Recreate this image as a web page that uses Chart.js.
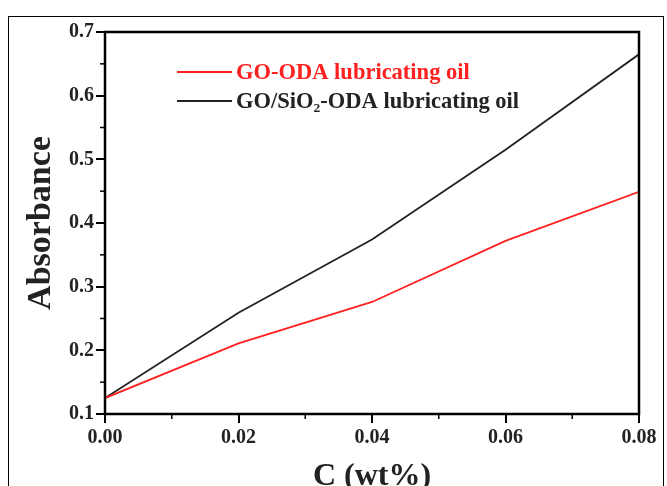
<!DOCTYPE html>
<html>
<head>
<meta charset="utf-8">
<script src="https://cdn.jsdelivr.net/npm/chart.js@4/dist/chart.umd.min.js"></script>
<style>
  body { margin: 0; background: #fff; }
  #wrap { position: relative; width: 667px; height: 486px; overflow: hidden; }
  #frame { position: absolute; left: 8px; top: 16px; width: 654px; height: 480px; border: 1px solid #000; pointer-events: none; }
</style>
</head>
<body>
<div id="wrap">
  <canvas id="chart" width="667" height="486"></canvas>
  <div id="frame"></div>
</div>
<script>
// Данные
const concentrations = [0, 0.02, 0.04, 0.06, 0.08];
const goOda = [0.125, 0.211, 0.276, 0.372, 0.449];
const goSiO2Oda = [0.125, 0.259, 0.374, 0.515, 0.665];
const xTicks = [0, 0.02, 0.04, 0.06, 0.08];
const yTicks = [0.1, 0.2, 0.3, 0.4, 0.5, 0.6, 0.7];
const seriesNames = ['GO-ODA lubricating oil', 'GO/SiO₂-ODA lubricating oil'];

const FONT = '"Liberation Serif", "Times New Roman", serif';

// Рамка, малые деления и легенда
const framePlugin = {
    id: 'frame',
    afterDraw(chart) {
        const ctx = chart.ctx;
        const a = chart.chartArea;
        const xs = chart.scales.x, ys = chart.scales.y;
        ctx.save();
        ctx.strokeStyle = '#000';
        ctx.lineWidth = 2.5;
        ctx.strokeRect(a.left, a.top, a.right - a.left, a.bottom - a.top);

        // малые деления
        ctx.lineWidth = 1.5;
        for (let i = 0; i < xTicks.length - 1; i++) {
            const px = xs.getPixelForValue((xTicks[i] + xTicks[i + 1]) / 2);
            ctx.beginPath();
            ctx.moveTo(px, a.bottom);
            ctx.lineTo(px, a.bottom + 5);
            ctx.stroke();
        }
        for (let i = 0; i < yTicks.length - 1; i++) {
            const py = ys.getPixelForValue((yTicks[i] + yTicks[i + 1]) / 2);
            ctx.beginPath();
            ctx.moveTo(a.left, py);
            ctx.lineTo(a.left - 5, py);
            ctx.stroke();
        }

        // легенда
        const colors = ['#ff2020', '#222'];
        const rows = [72, 101];
        ctx.font = 'bold 22.5px ' + FONT;
        ctx.textBaseline = 'middle';
        ctx.textAlign = 'left';
        rows.forEach((y, i) => {
            ctx.strokeStyle = colors[i];
            ctx.lineWidth = 2;
            ctx.beginPath();
            ctx.moveTo(177, y);
            ctx.lineTo(232, y);
            ctx.stroke();
            ctx.fillStyle = colors[i];
            ctx.fillText(seriesNames[i], 236, y + 1);
        });
        ctx.restore();
    }
};

const data = {
    datasets: [
        {
            label: seriesNames[0],
            data: concentrations.map((c, i) => ({ x: c, y: goOda[i] })),
            borderColor: '#ff2020',
            borderWidth: 1.8,
            pointRadius: 0,
            tension: 0
        },
        {
            label: seriesNames[1],
            data: concentrations.map((c, i) => ({ x: c, y: goSiO2Oda[i] })),
            borderColor: '#222',
            borderWidth: 1.8,
            pointRadius: 0,
            tension: 0
        }
    ]
};

new Chart(document.getElementById('chart'), {
    type: 'line',
    data: data,
    options: {
        responsive: false,
        animation: false,
        layout: { padding: { left: 0, right: 28, top: 32, bottom: 0 } },
        plugins: {
            legend: { display: false },
            tooltip: { enabled: false }
        },
        scales: {
            x: {
                type: 'linear',
                min: 0,
                max: 0.08,
                afterBuildTicks(scale) {
                    scale.ticks = xTicks.map(v => ({ value: v }));
                },
                afterFit(scale) { scale.height = 72; },
                grid: { drawOnChartArea: false, color: '#000', lineWidth: 2, tickLength: 9 },
                border: { display: false },
                ticks: {
                    color: '#222',
                    font: { family: FONT, size: 20, weight: 'bold' },
                    padding: 3,
                    maxRotation: 0,
                    callback: v => v.toFixed(2)
                },
                title: {
                    display: true,
                    text: 'C (wt%)',
                    color: '#222',
                    font: { family: FONT, size: 32, weight: 'bold', lineHeight: 0.6 },
                    padding: { top: 0, bottom: 0 }
                }
            },
            y: {
                type: 'linear',
                min: 0.1,
                max: 0.7,
                afterBuildTicks(scale) {
                    scale.ticks = yTicks.map(v => ({ value: v }));
                },
                afterFit(scale) { scale.width = 105; },
                grid: { drawOnChartArea: false, color: '#000', lineWidth: 2, tickLength: 9 },
                border: { display: false },
                ticks: {
                    color: '#222',
                    font: { family: FONT, size: 20, weight: 'bold' },
                    padding: 2,
                    callback: v => v.toFixed(1)
                },
                title: {
                    display: true,
                    text: 'Absorbance',
                    color: '#222',
                    font: { family: FONT, size: 34, weight: 'bold' },
                    padding: { top: 21, bottom: 0 }
                }
            }
        }
    },
    plugins: [framePlugin]
});
</script>
</body>
</html>
